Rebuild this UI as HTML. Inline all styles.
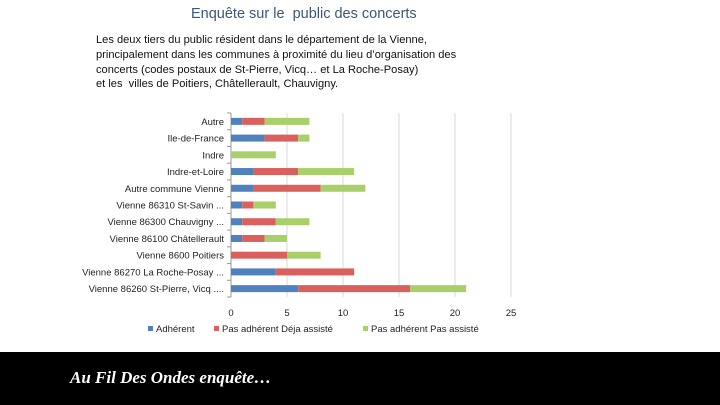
<!DOCTYPE html>
<html><head><meta charset="utf-8">
<style>
html,body{margin:0;padding:0;background:#fff;}
#page{position:relative;width:720px;height:405px;overflow:hidden;background:#fff;font-family:"Liberation Sans",sans-serif;}
#title{position:absolute;left:191px;top:6px;font-size:14.5px;color:#3b5677;white-space:nowrap;}
#para{position:absolute;left:96px;top:33px;font-size:11.1px;line-height:14.8px;color:#111;white-space:nowrap;}
#footer{position:absolute;left:0;top:352px;width:720px;height:53px;background:#000;}
#footer span{position:absolute;left:70px;top:16px;font-family:"Liberation Serif",serif;font-style:italic;font-weight:bold;font-size:17px;color:#fff;white-space:nowrap;}
svg{position:absolute;left:0;top:0;}
</style></head><body>
<div id="page">
<div id="title">Enquête sur le &nbsp;public des concerts</div>
<div id="para">Les deux tiers du public résident dans le département de la Vienne,<br>principalement dans les communes à proximité du lieu d’organisation des<br>concerts (codes postaux de St-Pierre, Vicq… et La Roche-Posay)<br>et les &nbsp;villes de Poitiers, Châtellerault, Chauvigny.</div>
<svg id="chart" width="720" height="352"></svg>
<div id="footer"><span>Au Fil Des Ondes enquête…</span></div>
</div>
<script>
const categories = ["Autre","Ile-de-France","Indre","Indre-et-Loire","Autre commune Vienne","Vienne 86310 St-Savin ...","Vienne 86300 Chauvigny ...","Vienne 86100 Châtellerault","Vienne 8600 Poitiers","Vienne 86270 La Roche-Posay ...","Vienne 86260 St-Pierre, Vicq ...."];
const adherent = [1,3,0,2,2,1,1,1,0,4,6];
const dejaAssiste = [2,3,0,4,6,1,3,2,5,7,10];
const pasAssiste = [4,1,4,5,4,2,3,2,3,0,5];
const xTicks = [0,5,10,15,20,25];
const seriesNames = ["Adhérent","Pas adhérent Déja assisté","Pas adhérent Pas assisté"];
const colors = ["#4f81bd","#d9605d","#a9cf6a"];

const NS="http://www.w3.org/2000/svg";
const svg=document.getElementById('chart');
const x0=231, x1=511, xMax=25, yTop=113, yBot=297;
const band=(yBot-yTop)/categories.length;
function xs(v){return x0+(x1-x0)*v/xMax;}
function yc(i){return yTop+band*(i+0.5);}
function mk(tag,attrs){const e=document.createElementNS(NS,tag);for(const k in attrs)e.setAttribute(k,attrs[k]);svg.appendChild(e);return e;}

xTicks.forEach(t=>{
  const g=mk('line',{x1:xs(t),x2:xs(t),y1:yTop,y2:yBot,stroke:t===0?'#999':'#d9d9d9','stroke-width':1});
  
  
  const tl=mk('text',{x:xs(t),y:316,'text-anchor':'middle','font-size':9.5,fill:'#222','font-family':'Liberation Sans, sans-serif'});
  tl.textContent=t;
  
  
});
for(let i=0;i<=categories.length;i++){
  const tk=mk('line',{x1:x0-4,x2:x0,y1:yTop+band*i,y2:yTop+band*i,stroke:'#999','stroke-width':1});
  
  
}
const series=[adherent,dejaAssiste,pasAssiste];
categories.forEach((c,i)=>{
  const lb=mk('text',{x:x0-7,y:yc(i)+3.5,'text-anchor':'end','font-size':9.5,fill:'#222','font-family':'Liberation Sans, sans-serif'});
  lb.textContent=c;
  
  
  let acc=0;
  series.forEach((s,k)=>{
    const v=s[i];
    if(v>0){
      const r=mk('rect',{x:xs(acc),y:yc(i)-3.5,width:xs(acc+v)-xs(acc),height:7,fill:colors[k]});
      
      
    }
    acc+=v;
  });
});
const lx=[148,214,363];
seriesNames.forEach((n,k)=>{
  const r=mk('rect',{x:lx[k],y:326,width:5,height:5,fill:colors[k]});
  
  
  const t=mk('text',{x:lx[k]+8,y:332,'font-size':9.5,fill:'#222','font-family':'Liberation Sans, sans-serif'});
  t.textContent=n;
  
  
});
</script>
</body></html>
